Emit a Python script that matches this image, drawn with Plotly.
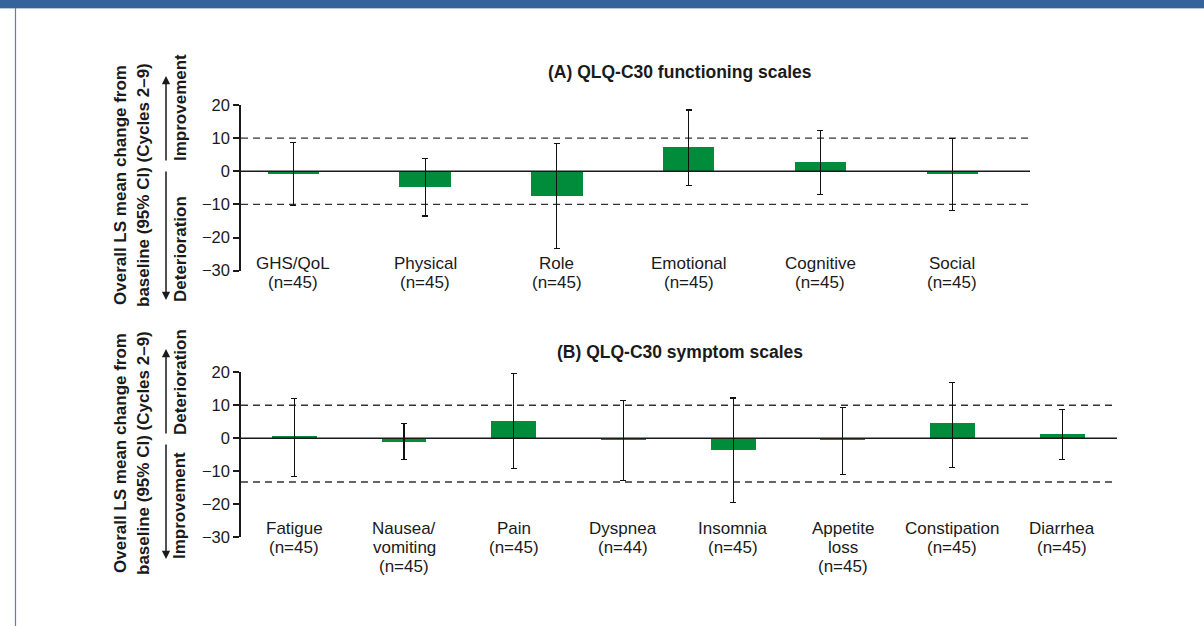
import plotly.graph_objects as go

W, H = 1204, 626

# ---------------- data ----------------
func_labels = ["GHS/QoL<br>(n=45)", "Physical<br>(n=45)", "Role<br>(n=45)",
               "Emotional<br>(n=45)", "Cognitive<br>(n=45)", "Social<br>(n=45)"]
func_mean = [-0.8, -4.8, -7.6, 7.2, 2.9, -0.9]
func_upper = [8.8, 3.9, 8.4, 18.5, 12.4, 10.0]
func_lower = [-10.2, -13.5, -23.4, -4.4, -7.1, -11.8]
func_mid = [10, -10]

symp_labels = ["Fatigue<br>(n=45)", "Nausea/<br>vomiting<br>(n=45)", "Pain<br>(n=45)",
               "Dyspnea<br>(n=44)", "Insomnia<br>(n=45)", "Appetite<br>loss<br>(n=45)",
               "Constipation<br>(n=45)", "Diarrhea<br>(n=45)"]
symp_mean = [0.4, -1.3, 5.2, -0.7, -3.6, -0.7, 4.4, 1.3]
symp_upper = [12.1, 4.4, 19.6, 11.4, 12.2, 9.4, 17.0, 8.6]
symp_lower = [-11.6, -6.6, -9.2, -12.9, -19.5, -11.0, -8.9, -6.4]
symp_mid = [10, -13.3]

yticks = [20, 10, 0, -10, -20, -30]
yticktext = ["20", "10", "0", "\u221210", "\u221220", "\u221230"]

GREEN = "#008c3a"
FONT = "Liberation Sans, Arial, Helvetica, sans-serif"


def px(x):
    return x / W


def py(y):
    return 1 - y / H


fig = go.Figure()

panels = [
    dict(labels=func_labels, mean=func_mean, up=func_upper, lo=func_lower, mid=func_mid,
         xa="x", ya="y", width=0.39, label_top=263),
    dict(labels=symp_labels, mean=symp_mean, up=symp_upper, lo=symp_lower, mid=symp_mid,
         xa="x2", ya="y2", width=0.41, label_top=528),
]

shapes = []
annotations = []
LFONT = dict(size=17, color="#1a1a1a", family=FONT)

for p in panels:
    n = len(p["mean"])
    xs = list(range(n))
    fig.add_trace(go.Bar(
        x=xs, y=p["mean"], width=p["width"], marker=dict(color=GREEN, line=dict(width=0)),
        error_y=dict(type="data", symmetric=False,
                     array=[u - m for u, m in zip(p["up"], p["mean"])],
                     arrayminus=[m - l for l, m in zip(p["lo"], p["mean"])],
                     color="#111111", thickness=1.1, width=3),
        xaxis=p["xa"], yaxis=p["ya"], showlegend=False, hoverinfo="skip",
    ))
    xref_dom = p["xa"] + " domain"
    for v in p["mid"]:
        shapes.append(dict(type="line", xref=xref_dom, yref=p["ya"], x0=0, x1=1, y0=v, y1=v,
                           line=dict(color="#333333", width=1.3, dash="7px,5px"), layer="below"))
    shapes.append(dict(type="line", xref=xref_dom, yref=p["ya"], x0=0, x1=1, y0=0, y1=0,
                       line=dict(color="#1a1a1a", width=1.5), layer="above"))
    for i, lab in enumerate(p["labels"]):
        for k, line in enumerate(lab.split("<br>")):
            annotations.append(dict(x=i, y=py(p["label_top"] + 19 * k), xref=p["xa"],
                                    yref="paper", text=line, showarrow=False,
                                    yanchor="middle", xanchor="center", font=LFONT))

yaxis_common = dict(range=[-30, 20], tickvals=yticks, ticktext=yticktext, showgrid=False,
                    zeroline=False, showline=True, linecolor="#1a1a1a", linewidth=1.5,
                    ticks="outside", ticklen=6, tickwidth=1.5, tickcolor="#1a1a1a",
                    tickfont=dict(size=16.5, color="#1a1a1a", family=FONT), fixedrange=True,
                    automargin=False)

fig.update_layout(
    width=W, height=H, margin=dict(l=0, r=0, t=0, b=0, pad=0, autoexpand=False),
    paper_bgcolor="white", plot_bgcolor="rgba(0,0,0,0)",
    bargap=0,
    xaxis=dict(domain=[px(241), px(1030)], range=[-0.397, 5.59], visible=False, fixedrange=True),
    yaxis=dict(domain=[py(270.7), py(105)], **yaxis_common),
    xaxis2=dict(domain=[px(241), px(1117)], range=[-0.486, 7.5], visible=False, fixedrange=True,
                anchor="y2"),
    yaxis2=dict(domain=[py(537), py(372.3)], anchor="x2", **yaxis_common),
)

# frame decoration
shapes.append(dict(type="rect", xref="paper", yref="paper", x0=0, x1=1, y0=py(8), y1=1,
                   fillcolor="#34649a", line=dict(width=0), layer="above"))
shapes.append(dict(type="line", xref="paper", yref="paper", x0=0, x1=1, y0=py(8.5), y1=py(8.5),
                   line=dict(color="#b9c9dd", width=1)))
shapes.append(dict(type="line", xref="paper", yref="paper", x0=px(15.5), x1=px(15.5),
                   y0=0, y1=py(8), line=dict(color="#5b7fae", width=1.2)))

BOLD = dict(size=17, color="#1a1a1a", family=FONT)


def centered(x, y, text, font, angle=0):
    return dict(x=px(x), y=py(y), xref="paper", yref="paper", text=text, textangle=angle,
                showarrow=False, xanchor="center", yanchor="middle", font=font)


# panel titles
TFONT = dict(size=17.5, color="#1a1a1a", family=FONT)
annotations.append(centered(680, 72, "<b>(A) QLQ-C30 functioning scales</b>", TFONT))
annotations.append(centered(680, 352, "<b>(B) QLQ-C30 symptom scales</b>", TFONT))

# y titles
for cy in (185, 453):
    annotations.append(centered(120, cy, "<b>Overall LS mean change from</b>", BOLD, -90))
    annotations.append(centered(143, cy, "<b>baseline (95% CI) (Cycles 2\u20139)</b>", BOLD, -90))

# direction labels and arrows
dir_labels = [("Improvement", 108), ("Deterioration", 249),
              ("Deterioration", 382), ("Improvement", 506)]
for txt, cy in dir_labels:
    annotations.append(centered(180, cy, "<b>" + txt + "</b>", BOLD, -90))

arrows = [(76, 162), (300, 170), (349, 435), (559, 443)]
for tip, tail in arrows:
    annotations.append(dict(x=px(166), y=py(tip), xref="paper", yref="paper", text="",
                            xanchor="center", yanchor="middle",
                            showarrow=True, ax=0, ay=tail - tip, arrowhead=2, arrowsize=1.1,
                            arrowwidth=1.5, arrowcolor="#1a1a1a"))

fig.update_layout(shapes=shapes, annotations=annotations)

fig.write_html("out.html")
